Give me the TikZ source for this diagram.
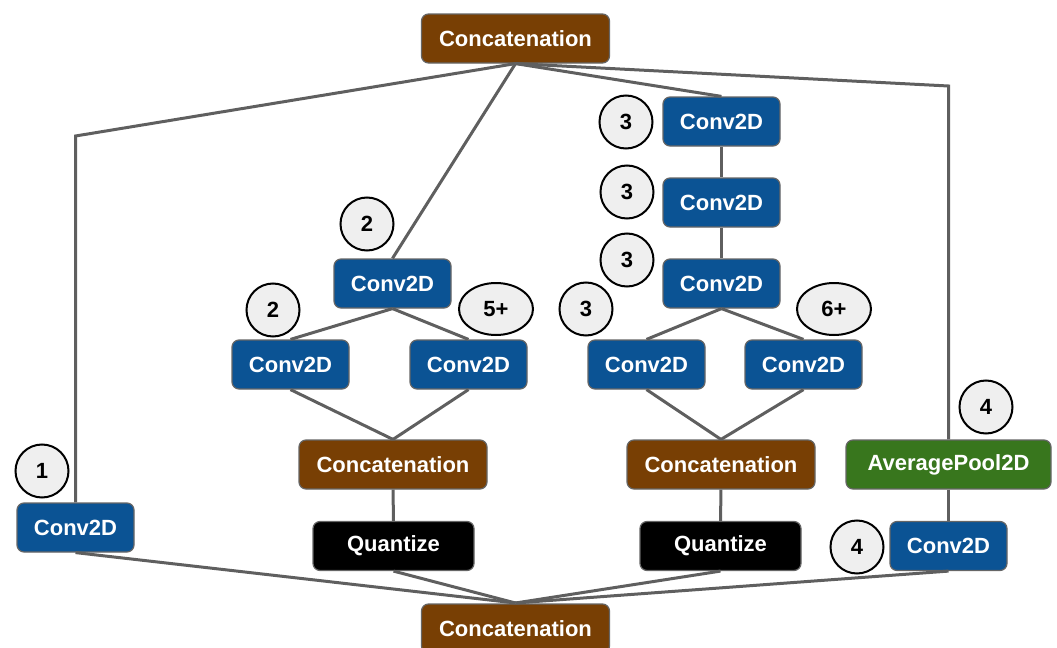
\documentclass[tikz,border=0pt]{standalone}
\usepackage{fontspec}
\setmainfont{Liberation Sans}
\usetikzlibrary{shapes.geometric}

\definecolor{convblau}{HTML}{0B5394}
\definecolor{catbraun}{HTML}{783F04}
\definecolor{poolgruen}{HTML}{38761D}
\definecolor{rahmen}{HTML}{666666}
\definecolor{linie}{HTML}{5F5F5F}
\definecolor{kreis}{HTML}{EFEFEF}

\tikzset{
    schicht/.style = {draw=rahmen, line width=0.6pt, rounded corners=3.5pt, text=white,
        font=\fontsize{11}{13}\selectfont\bfseries, minimum height=24.5pt, inner sep=0pt},
    conv/.style = {schicht, fill=convblau, minimum width=58.5pt},
    cat/.style = {schicht, fill=catbraun, minimum width=94pt},
    quant/.style = {schicht, fill=black, minimum width=80.5pt},
    pool/.style = {schicht, fill=poolgruen, minimum width=102.5pt},
    nummer/.style = {circle, draw=black, line width=1pt, fill=kreis, minimum size=26.5pt,
        inner sep=0pt, font=\fontsize{11}{13}\selectfont\bfseries},
    nummerbreit/.style = {nummer, ellipse, minimum width=37pt, minimum height=26pt},
    verbindung/.style = {draw=linie, line width=1.5pt}
}

\begin{document}
\begin{tikzpicture}[x=0.5pt, y=-0.5pt]
    \useasboundingbox (0,0) rectangle (1057,648);

    % Ausgang oben und unten
    \node[cat] (catoben) at (515.5,38.5) {Concatenation};
    \node[cat] (catunten) at (515.5,628.5) {Concatenation};
    \coordinate (sammel) at (515.5,603);

    % Zweig 1
    \node[conv] (conva) at (75.5,527.5) {Conv2D};
    \node[nummer] (na) at (42,471) {1};
    \coordinate (knicka) at (75.5,136);

    % Zweig 2
    \node[conv] (convb) at (392.5,283.5) {Conv2D};
    \node[nummer] (nb) at (367,224) {2};
    \node[conv] (convbl) at (290.5,364.5) {Conv2D};
    \node[nummer] (nbl) at (273,310) {2};
    \node[conv] (convbr) at (468.5,364.5) {Conv2D};
    \node[nummerbreit] (nbr) at (496,309) {5+};
    \node[cat] (catb) at (393,464.5) {Concatenation};
    \node[quant] (quantb) at (393.5,546) {Quantize};

    % Zweig 3
    \node[conv] (convc) at (721.5,121.5) {Conv2D};
    \node[nummer] (nc) at (626,122) {3};
    \node[conv] (convcc) at (721.5,202.5) {Conv2D};
    \node[nummer] (ncc) at (627,192) {3};
    \node[conv] (convccc) at (721.5,283.5) {Conv2D};
    \node[nummer] (nccc) at (627,260) {3};
    \node[conv] (convcl) at (646.5,364.5) {Conv2D};
    \node[nummer] (ncl) at (586,309) {3};
    \node[conv] (convcr) at (803.5,364.5) {Conv2D};
    \node[nummerbreit] (ncr) at (834,309) {6+};
    \node[cat] (catc) at (721,464.5) {Concatenation};
    \node[quant] (quantc) at (720.5,546) {Quantize};

    % Zweig 4
    \node[pool] (poold) at (948.5,464.5) {AveragePool2D};
    \node[nummer] (nd) at (986,407) {4};
    \node[conv] (convd) at (948.5,546) {Conv2D};
    \node[nummer] (ndd) at (857,547) {4};
    \coordinate (knickd) at (948.5,86);

    % Verbindungen
    \draw[verbindung] (catoben.south) -- (knicka) -- (conva.north);
    \draw[verbindung] (catoben.south) -- (convb.north);
    \draw[verbindung] (catoben.south) -- (convc.north);
    \draw[verbindung] (catoben.south) -- (knickd) -- (poold.north);

    \draw[verbindung] (convb.south) -- (convbl.north);
    \draw[verbindung] (convb.south) -- (convbr.north);
    \draw[verbindung] (convbl.south) -- (catb.north);
    \draw[verbindung] (convbr.south) -- (catb.north);
    \draw[verbindung] (catb) -- (quantb);

    \draw[verbindung] (convc) -- (convcc);
    \draw[verbindung] (convcc) -- (convccc);
    \draw[verbindung] (convccc.south) -- (convcl.north);
    \draw[verbindung] (convccc.south) -- (convcr.north);
    \draw[verbindung] (convcl.south) -- (catc.north);
    \draw[verbindung] (convcr.south) -- (catc.north);
    \draw[verbindung] (catc) -- (quantc);

    \draw[verbindung] (poold) -- (convd);

    \draw[verbindung] (conva.south) -- (sammel);
    \draw[verbindung] (quantb.south) -- (sammel);
    \draw[verbindung] (quantc.south) -- (sammel);
    \draw[verbindung] (convd.south) -- (sammel);
\end{tikzpicture}
\end{document}
